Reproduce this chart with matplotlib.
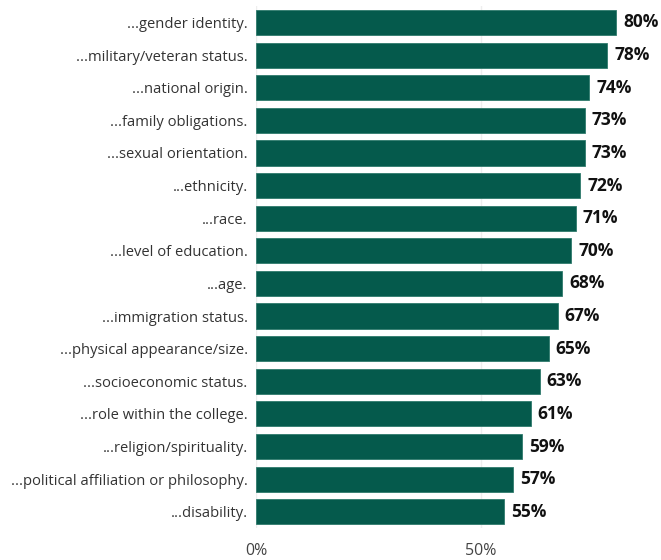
import matplotlib.pyplot as plt

# ответы по категориям
labels = ["...gender identity.", "...military/veteran status.", "...national origin.",
          "...family obligations.", "...sexual orientation.", "...ethnicity.", "...race.",
          "...level of education.", "...age.", "...immigration status.",
          "...physical appearance/size.", "...socioeconomic status.",
          "...role within the college.", "...religion/spirituality.",
          "...political affiliation or philosophy.", "...disability."]
values = [80, 78, 74, 73, 73, 72, 71, 70, 68, 67, 65, 63, 61, 59, 57, 55]
ticks = [0, 50]
tick_labels = ["0%", "50%"]

plt.rcParams['font.family'] = ['Open Sans', 'DejaVu Sans']

fig = plt.figure(figsize=(6.61, 5.6), dpi=100)
ax = fig.add_axes([0.3873, 0.057, 0.6127, 0.932])

ypos = range(len(values))
ax.barh(ypos, values, height=0.77, color='#055a4c', edgecolor='#2f7a6c', linewidth=0.6, zorder=2)

for y, v in zip(ypos, values):
    ax.text(v + 1.6, y, f"{v}%", va='center', ha='left', fontsize=12.5,
            fontweight='bold', color='#111111')

ax.set_xlim(0, 90)
ax.set_ylim(len(values) - 0.5, -0.5)
ax.set_yticks(list(ypos))
ax.set_yticklabels(labels, fontsize=10.6, color='#333333')
ax.set_xticks(ticks)
ax.set_xticklabels(tick_labels, fontsize=11.5, color='#444444')
ax.tick_params(axis='both', length=0)
ax.tick_params(axis='y', pad=6)
ax.tick_params(axis='x', pad=11)
ax.grid(axis='x', color='#eeeeee', linewidth=1, zorder=0)
for s in ax.spines.values():
    s.set_visible(False)

fig.savefig('out.png', dpi=100)
